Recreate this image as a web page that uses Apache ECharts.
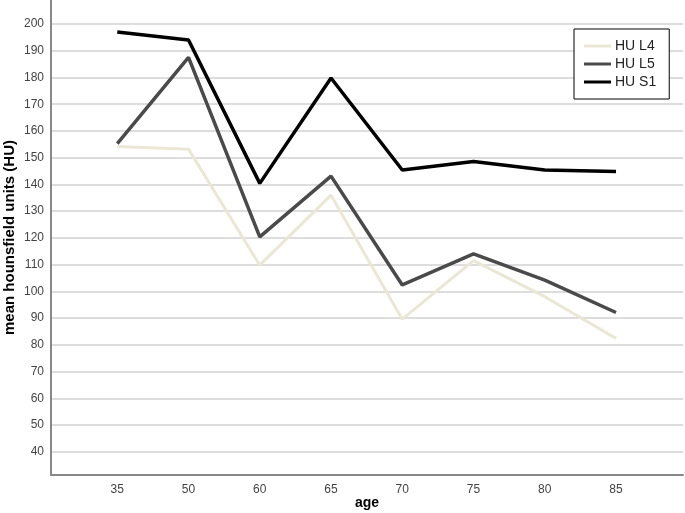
<!DOCTYPE html>
<html>
<head>
<meta charset="utf-8">
<script src="https://cdn.jsdelivr.net/npm/echarts@6/dist/echarts.min.js"></script>
<style>
  html, body { margin: 0; padding: 0; background: #fff; }
  #chart { width: 685px; height: 513px; }
</style>
</head>
<body>
<div id="chart"></div>
<script>
// categories (age groups)
const ages = ["35", "50", "60", "65", "70", "75", "80", "85"];
// mean HU per level
const huL4 = [154.2, 153.2, 109.8, 136.0, 89.6, 111.5, 98.0, 82.4];
const huL5 = [155.3, 187.5, 120.4, 143.1, 102.4, 114.0, 104.2, 92.1];
const huS1 = [197.0, 194.0, 140.4, 179.8, 145.4, 148.6, 145.4, 144.8];
const yTicks = [40, 50, 60, 70, 80, 90, 100, 110, 120, 130, 140, 150, 160, 170, 180, 190, 200];

const pairs = (arr) => arr.map((v, i) => [i, v]);
const xIdx = ages.map((a, i) => i);

const myChart = echarts.init(document.getElementById("chart"));

const option = {
  animation: false,
  textStyle: { fontFamily: "Liberation Sans, Arial, sans-serif" },
  grid: { left: 51, right: 2, top: 0, bottom: 38, containLabel: false, outerBoundsMode: "none" },
  legend: {
    orient: "vertical",
    left: 574,
    top: 29,
    padding: [10, 13, 10, 10],
    borderColor: "#000",
    borderWidth: 1,
    backgroundColor: "#fff",
    itemWidth: 27,
    itemHeight: 3,
    itemGap: 4,
    icon: "rect",
    textStyle: { fontSize: 14, color: "#222", padding: [0, 0, 0, -1] },
    data: ["HU L4", "HU L5", "HU S1"],
  },
  xAxis: {
    type: "value",
    min: -0.93,
    max: 7.94,
    name: "age",
    nameLocation: "middle",
    nameGap: 21,
    nameMoveOverlap: false,
    nameTextStyle: { fontSize: 14, fontWeight: "bold", color: "#000" },
    axisLine: { onZero: false, lineStyle: { color: "#888", width: 2 } },
    axisTick: { show: false, customValues: xIdx },
    splitLine: { show: false },
    axisLabel: {
      customValues: xIdx,
      formatter: (v) => ages[v],
      fontSize: 12,
      color: "#444",
      margin: 9,
    },
  },
  yAxis: {
    type: "value",
    min: 31.3,
    max: 209,
    name: "mean hounsfield units (HU)",
    nameLocation: "middle",
    nameGap: 34,
    nameMoveOverlap: false,
    nameTextStyle: { fontSize: 15, fontWeight: "bold", color: "#000" },
    axisLine: { show: true, onZero: false, lineStyle: { color: "#888", width: 2 } },
    axisTick: { show: false, customValues: yTicks },
    axisLabel: { customValues: yTicks, fontSize: 12, color: "#444", margin: 7 },
    splitLine: { show: true, lineStyle: { color: "#d2d2d2", width: 1.5 } },
  },
  series: [
    {
      name: "HU L4",
      type: "line",
      data: pairs(huL4),
      symbol: "none",
      color: "#ebe7d5",
      lineStyle: { color: "#ebe7d5", width: 3 },
    },
    {
      name: "HU L5",
      type: "line",
      data: pairs(huL5),
      symbol: "none",
      color: "#4a4a4a",
      lineStyle: { color: "#4a4a4a", width: 3.5 },
    },
    {
      name: "HU S1",
      type: "line",
      data: pairs(huS1),
      symbol: "none",
      color: "#000",
      lineStyle: { color: "#000", width: 3.5 },
    },
  ],
};

myChart.setOption(option);
</script>
</body>
</html>
